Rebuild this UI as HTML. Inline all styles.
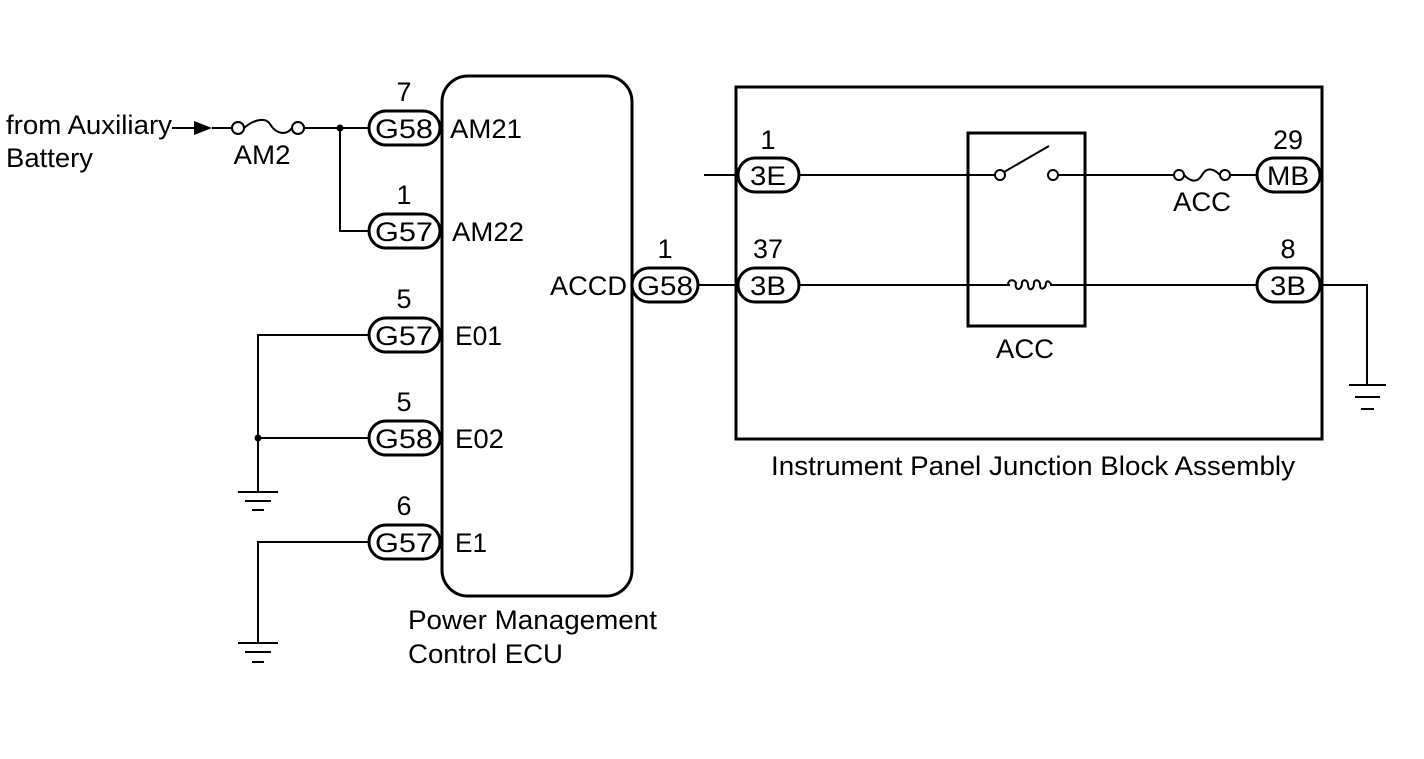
<!DOCTYPE html>
<html><head><meta charset="utf-8"><style>
html,body{margin:0;padding:0;background:#fff;}
svg{display:block;}
text{font-family:"Liberation Sans",Arial,Helvetica,sans-serif;font-size:27px;fill:#000;}
</style></head><body>
<svg width="1424" height="759" viewBox="0 0 1424 759" xmlns="http://www.w3.org/2000/svg">
<g fill="none" stroke="#000" stroke-width="2">
<line x1="172" y1="128" x2="196" y2="128"/>
<line x1="212" y1="128" x2="232" y2="128"/>
<circle cx="238" cy="128" r="6"/>
<path d="M244,128 C256,118 266,118 270,124 C276,134 286,136 292,128"/>
<circle cx="298" cy="128" r="6"/>
<line x1="304" y1="128" x2="370" y2="128"/>
<polyline points="340,128 340,231 370,231"/>
<polyline points="370,335 258,335 258,492"/>
<line x1="258" y1="438" x2="370" y2="438"/>
<polyline points="370,542 258,542 258,643"/>
<line x1="238" y1="492" x2="278" y2="492"/><line x1="245" y1="501" x2="271" y2="501"/><line x1="252" y1="510" x2="264" y2="510"/>
<line x1="238" y1="643" x2="278" y2="643"/><line x1="245" y1="652" x2="271" y2="652"/><line x1="252" y1="662" x2="264" y2="662"/>
<line x1="698" y1="285" x2="738" y2="285"/>
<line x1="704" y1="175" x2="738" y2="175"/>
<line x1="799" y1="175" x2="995" y2="175"/>
<circle cx="1000" cy="175" r="5"/>
<line x1="1004" y1="172" x2="1049" y2="146"/>
<circle cx="1053" cy="175" r="5"/>
<line x1="1058" y1="175" x2="1173" y2="175"/>
<circle cx="1179" cy="175" r="5"/>
<path d="M1184,175 C1192,183 1198,182 1202,175 C1206,168 1212,167 1220,175"/>
<circle cx="1225" cy="175" r="5"/>
<line x1="1230" y1="175" x2="1257" y2="175"/>
<line x1="799" y1="285" x2="1010" y2="285"/>
<path d="M1008,285 C1008,279 1014,279 1016,283 C1014,291 1022,291 1022,283 C1022,279 1028,279 1028,285 C1028,291 1034,291 1034,283 C1034,279 1040,279 1040,285 C1040,291 1046,289 1046,283 C1048,279 1050,283 1052,285"/>
<line x1="1050" y1="285" x2="1257" y2="285"/>
<polyline points="1320,285 1367,285 1367,385"/>
<line x1="1349" y1="385" x2="1386" y2="385"/><line x1="1355" y1="397" x2="1380" y2="397"/><line x1="1361" y1="409" x2="1374" y2="409"/>
</g>
<polygon points="194,121 212,128 194,135" fill="#000"/>
<circle cx="340" cy="128" r="3.5" fill="#000"/>
<circle cx="258" cy="438" r="3.5" fill="#000"/>
<g fill="none" stroke="#000" stroke-width="3">
<rect x="442" y="76" width="190" height="520" rx="26"/>
<rect x="736" y="87" width="586" height="352"/>
<rect x="968" y="133" width="117" height="193"/>
</g>
<g fill="#fff" stroke="#000" stroke-width="3">
<rect x="369" y="111" width="71" height="34" rx="17"/>
<rect x="369" y="214" width="71" height="34" rx="17"/>
<rect x="369" y="318" width="71" height="34" rx="17"/>
<rect x="369" y="421" width="71" height="34" rx="17"/>
<rect x="369" y="525" width="71" height="34" rx="17"/>
<rect x="632" y="268" width="66" height="34" rx="17"/>
<rect x="738" y="158" width="61" height="34" rx="17"/>
<rect x="738" y="268" width="61" height="34" rx="17"/>
<rect x="1257" y="158" width="63" height="34" rx="17"/>
<rect x="1257" y="268" width="63" height="34" rx="17"/>
</g>
<g text-anchor="middle">
<text x="404" y="138" textLength="58" lengthAdjust="spacingAndGlyphs">G58</text>
<text x="404" y="241" textLength="58" lengthAdjust="spacingAndGlyphs">G57</text>
<text x="404" y="345" textLength="58" lengthAdjust="spacingAndGlyphs">G57</text>
<text x="404" y="448" textLength="58" lengthAdjust="spacingAndGlyphs">G58</text>
<text x="404" y="552" textLength="58" lengthAdjust="spacingAndGlyphs">G57</text>
<text x="404" y="101">7</text><text x="404" y="204">1</text><text x="404" y="308">5</text><text x="404" y="411">5</text><text x="404" y="515">6</text>
<text x="665" y="295" textLength="56" lengthAdjust="spacingAndGlyphs">G58</text><text x="665" y="258">1</text>
<text x="768" y="185" textLength="36" lengthAdjust="spacingAndGlyphs">3E</text><text x="768" y="149">1</text>
<text x="768" y="295" textLength="36" lengthAdjust="spacingAndGlyphs">3B</text><text x="768" y="258" textLength="30" lengthAdjust="spacingAndGlyphs">37</text>
<text x="1288" y="185" textLength="42" lengthAdjust="spacingAndGlyphs">MB</text><text x="1288" y="149" textLength="30" lengthAdjust="spacingAndGlyphs">29</text>
<text x="1288" y="295" textLength="36" lengthAdjust="spacingAndGlyphs">3B</text><text x="1288" y="258">8</text>
<text x="262" y="164" textLength="57" lengthAdjust="spacingAndGlyphs">AM2</text>
<text x="1202" y="211" textLength="58" lengthAdjust="spacingAndGlyphs">ACC</text>
<text x="1025" y="358" textLength="58" lengthAdjust="spacingAndGlyphs">ACC</text>
<text x="1033" y="475" textLength="524" lengthAdjust="spacingAndGlyphs">Instrument Panel Junction Block Assembly</text>
</g>
<text x="450" y="138" textLength="72" lengthAdjust="spacingAndGlyphs">AM21</text>
<text x="452" y="241" textLength="72" lengthAdjust="spacingAndGlyphs">AM22</text>
<text x="455" y="345" textLength="47" lengthAdjust="spacingAndGlyphs">E01</text>
<text x="455" y="448" textLength="49" lengthAdjust="spacingAndGlyphs">E02</text>
<text x="455" y="552" textLength="32" lengthAdjust="spacingAndGlyphs">E1</text>
<text x="550" y="295" textLength="77" lengthAdjust="spacingAndGlyphs">ACCD</text>
<text x="6" y="134" textLength="166" lengthAdjust="spacingAndGlyphs">from Auxiliary</text>
<text x="6" y="167" textLength="87" lengthAdjust="spacingAndGlyphs">Battery</text>
<text x="408" y="629" textLength="249" lengthAdjust="spacingAndGlyphs">Power Management</text>
<text x="408" y="663" textLength="155" lengthAdjust="spacingAndGlyphs">Control ECU</text>
</svg>
</body></html>
